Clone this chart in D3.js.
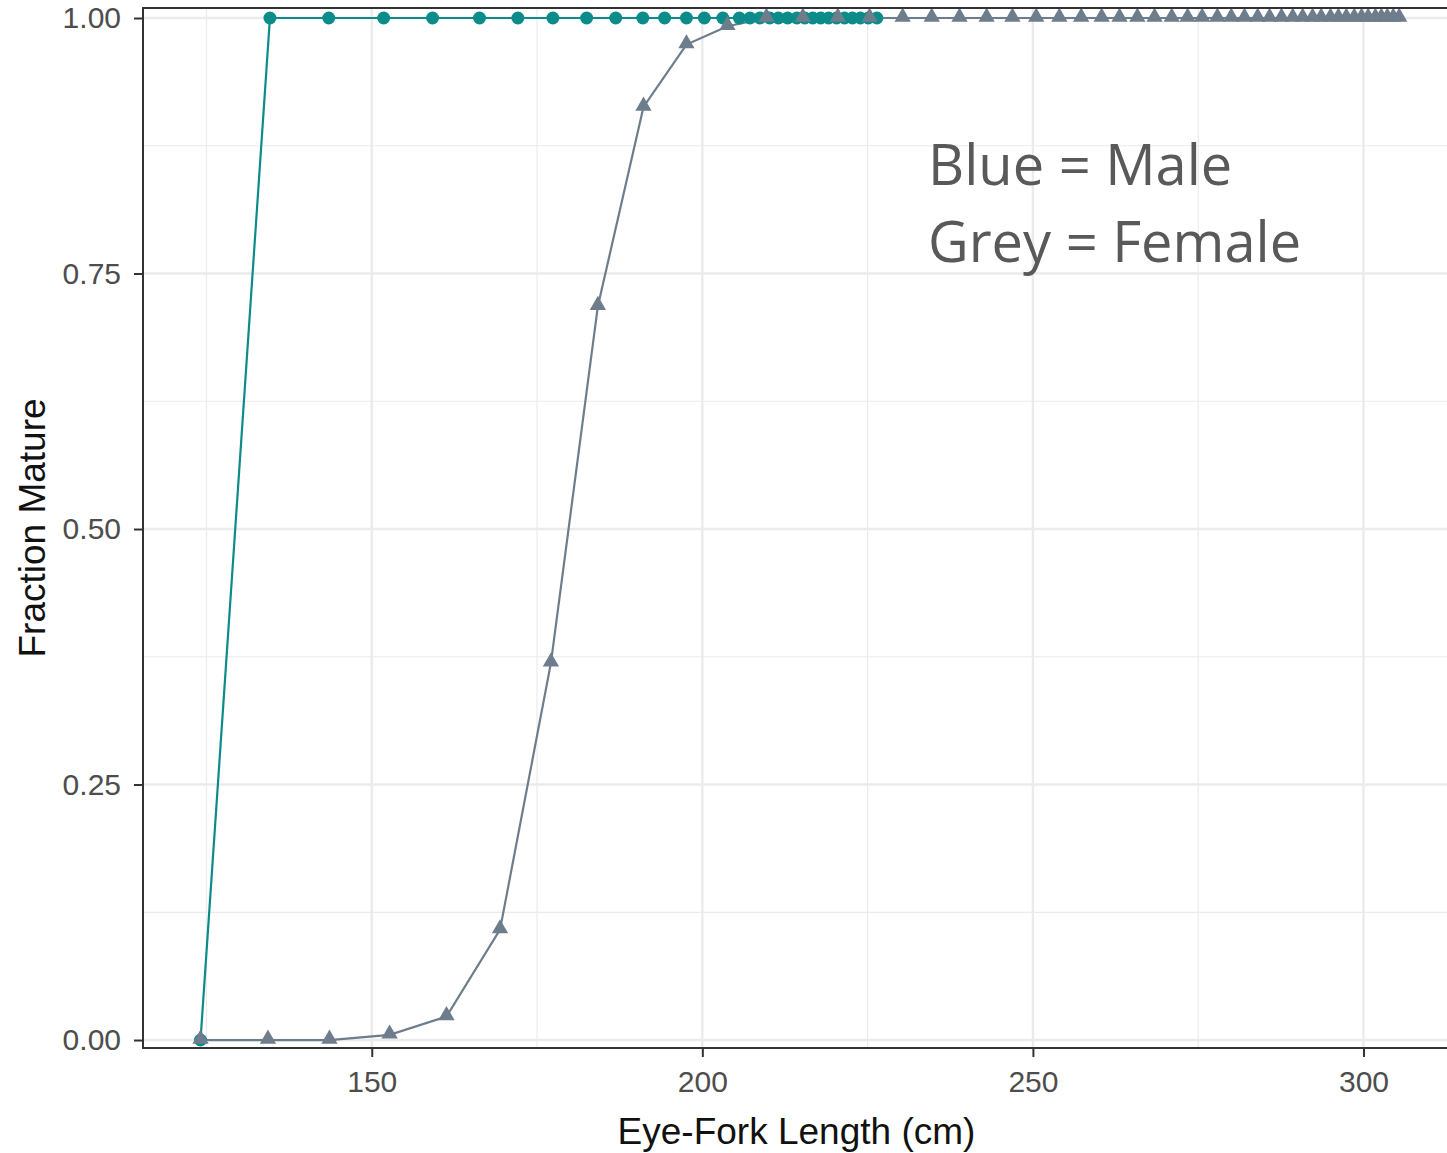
<!DOCTYPE html>
<html>
<head>
<meta charset="utf-8">
<script src="https://cdn.jsdelivr.net/npm/d3@7"></script>
<style>
  html, body { margin: 0; padding: 0; background: #ffffff; }
  svg { display: block; }
</style>
</head>
<body>
<svg id="chart" width="1447" height="1153"></svg>
<script>
// Eye-fork length (cm) and fraction mature, by sex
const maleLength = [124.1, 134.6, 143.5, 151.8, 159.2, 166.3, 172.1, 177.4, 182.5, 186.9,
  191.0, 194.3, 197.6, 200.3, 203.1, 205.6, 207.2, 208.7, 210.2, 211.5, 212.9, 214.3,
  215.5, 216.7, 217.9, 219.1, 220.3, 221.5, 222.7, 223.9, 225.1, 226.4];
const maleMature = [0, 1, 1, 1, 1, 1, 1, 1, 1, 1,
  1, 1, 1, 1, 1, 1, 1, 1, 1, 1, 1, 1,
  1, 1, 1, 1, 1, 1, 1, 1, 1, 1];

const femaleLength = [124.1, 134.3, 143.6, 152.7, 161.3, 169.4, 177.1, 184.2, 191.1, 197.6,
  203.8, 209.7, 215.2, 220.5, 225.3, 230.3, 234.7, 238.9, 243.0, 246.9, 250.5, 254.0,
  257.3, 260.4, 263.1, 265.8, 268.4, 271.0, 273.4, 275.6, 277.9, 280.0, 282.0, 284.0,
  285.8, 287.6, 289.3, 290.8, 292.3, 293.6, 295.0, 296.2, 297.4, 298.6, 299.7, 300.7,
  301.8, 302.7, 303.6, 304.5, 305.4];
const femaleMature = [0, 0, 0, 0.005, 0.023, 0.108, 0.369, 0.718, 0.913, 0.974,
  0.992, 1, 1, 1, 1, 1, 1, 1, 1, 1, 1, 1,
  1, 1, 1, 1, 1, 1, 1, 1, 1, 1, 1, 1,
  1, 1, 1, 1, 1, 1, 1, 1, 1, 1, 1, 1,
  1, 1, 1, 1, 1];

const xTicks = [150, 200, 250, 300];
const xMinor = [125, 175, 225, 275];
const yTicks = [0, 0.25, 0.5, 0.75, 1];
const yMinor = [0.125, 0.375, 0.625, 0.875];
const yTickLabels = ["0.00", "0.25", "0.50", "0.75", "1.00"];
const xTitle = "Eye-Fork Length (cm)";
const yTitle = "Fraction Mature";
const noteLines = ["Blue = Male", "Grey = Female"];

const maleColor = "#0b8b89";
const femaleColor = "#6e7d8c";

const panel = { left: 143, right: 1462, top: 8, bottom: 1048 };

const x = d3.scaleLinear().domain([115.4, 314.9]).range([panel.left, panel.right]);
const y = d3.scaleLinear().domain([-0.0078, 1.0098]).range([panel.bottom, panel.top]);

const svg = d3.select("#chart");

// grid lines, minor first then major
const grid = svg.append("g");
grid.selectAll("line.vminor").data(xMinor).join("line")
  .attr("x1", d => x(d)).attr("x2", d => x(d))
  .attr("y1", panel.top).attr("y2", panel.bottom)
  .attr("stroke", "#ebebeb").attr("stroke-width", 1.2);
grid.selectAll("line.hminor").data(yMinor).join("line")
  .attr("y1", d => y(d)).attr("y2", d => y(d))
  .attr("x1", panel.left).attr("x2", panel.right)
  .attr("stroke", "#ebebeb").attr("stroke-width", 1.2);
grid.selectAll("line.vmajor").data(xTicks).join("line")
  .attr("x1", d => x(d)).attr("x2", d => x(d))
  .attr("y1", panel.top).attr("y2", panel.bottom)
  .attr("stroke", "#ebebeb").attr("stroke-width", 2.4);
grid.selectAll("line.hmajor").data(yTicks).join("line")
  .attr("y1", d => y(d)).attr("y2", d => y(d))
  .attr("x1", panel.left).attr("x2", panel.right)
  .attr("stroke", "#ebebeb").attr("stroke-width", 2.4);

const male = maleLength.map((v, i) => ({ len: v, frac: maleMature[i] }));
const female = femaleLength.map((v, i) => ({ len: v, frac: femaleMature[i] }));

const line = d3.line().x(d => x(d.len)).y(d => y(d.frac));

svg.append("path").datum(male).attr("d", line)
  .attr("fill", "none").attr("stroke", maleColor).attr("stroke-width", 2.2);
svg.append("path").datum(female).attr("d", line)
  .attr("fill", "none").attr("stroke", femaleColor).attr("stroke-width", 2.2);

svg.append("g").selectAll("circle").data(male).join("circle")
  .attr("cx", d => x(d.len)).attr("cy", d => y(d.frac)).attr("r", 6.5)
  .attr("fill", maleColor);

const tri = d3.symbol().type(d3.symbolTriangle).size(115);
svg.append("g").selectAll("path").data(female).join("path")
  .attr("d", tri)
  .attr("transform", d => `translate(${x(d.len)},${y(d.frac) - 1})`)
  .attr("fill", femaleColor);

// panel border
svg.append("rect")
  .attr("x", panel.left).attr("y", panel.top)
  .attr("width", panel.right - panel.left).attr("height", panel.bottom - panel.top)
  .attr("fill", "none").attr("stroke", "#333333").attr("stroke-width", 2);

// axes
const xAxis = d3.axisBottom(x).tickValues(xTicks).tickSize(9).tickPadding(14);
const gx = svg.append("g").attr("transform", `translate(0,${panel.bottom})`).call(xAxis);
gx.select(".domain").remove();
gx.selectAll(".tick line").attr("stroke", "#333333").attr("stroke-width", 2);
gx.selectAll(".tick text")
  .attr("fill", "#4d4d4d").attr("font-family", "Liberation Sans, Arial, sans-serif")
  .attr("font-size", 30);

const yAxis = d3.axisLeft(y).tickValues(yTicks).tickSize(9).tickPadding(13)
  .tickFormat((d, i) => yTickLabels[i]);
const gy = svg.append("g").attr("transform", `translate(${panel.left},0)`).call(yAxis);
gy.select(".domain").remove();
gy.selectAll(".tick line").attr("stroke", "#333333").attr("stroke-width", 2);
gy.selectAll(".tick text")
  .attr("fill", "#4d4d4d").attr("font-family", "Liberation Sans, Arial, sans-serif")
  .attr("font-size", 30);

// axis titles
svg.append("text")
  .attr("x", (panel.left + panel.right) / 2 - 6).attr("y", 1144)
  .attr("text-anchor", "middle")
  .attr("font-family", "Liberation Sans, Arial, sans-serif").attr("font-size", 37)
  .attr("fill", "#111111").text(xTitle);
svg.append("text")
  .attr("transform", `translate(45,${(panel.top + panel.bottom) / 2}) rotate(-90)`)
  .attr("text-anchor", "middle")
  .attr("font-family", "Liberation Sans, Arial, sans-serif").attr("font-size", 37)
  .attr("fill", "#111111").text(yTitle);

// annotation
svg.append("g").selectAll("text").data(noteLines).join("text")
  .attr("x", 928).attr("y", (d, i) => 185 + i * 77)
  .attr("font-family", "Open Sans, Noto Sans, sans-serif").attr("font-size", 56)
  .attr("fill", "#595959").text(d => d);
</script>
</body>
</html>
